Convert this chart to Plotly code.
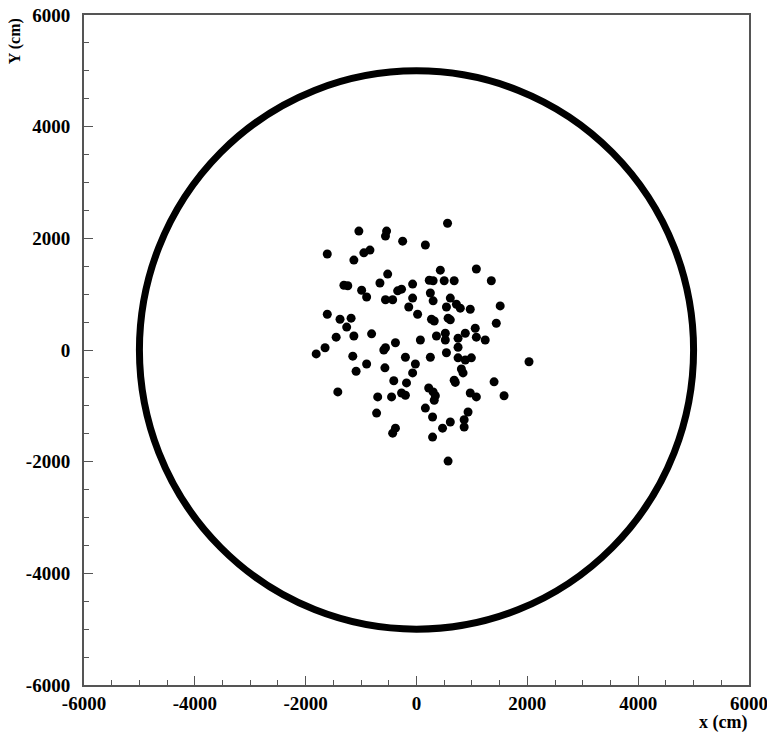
import plotly.graph_objects as go

# Detector boundary radius (cm)
boundary_radius = 5000

# Event positions (cm)
x_cm = [560, -1040, -540, -560, -250, 160, -1610, -1130, -950, -840,
        430, 1080, -520, -660, -1310, -1240, -990, -900, -560, -430,
        -340, -270, -70, 230, 300, 500, 680, 1350, -70, 250,
        300, 610, 720, 790, 540, 970, 1510, -140, 20, -1610,
        -1380, -1180, -1260, 270, 320, 570, 610, 1440, -1450, -1130,
        -810, 520, 520, 360, 750, 880, 1060, 1080, 1240, 70,
        -1650, -1810, -590, -560, -380, -1150, -200, -900, -1090, -570,
        750, 250, 540, 750, 880, 990, 810, 840, -70, -20,
        2030, -410, -180, -1420, -700, -450, -270, -200, 680, 700,
        1400, 220, 300, 340, 320, 970, 1080, 1580, -720, 160,
        290, 930, 610, 860, 860, 470, -380, -430, 290, 570]
y_cm = [2270, 2130, 2130, 2040, 1950, 1880, 1720, 1610, 1740, 1790,
        1430, 1450, 1360, 1200, 1160, 1150, 1070, 950, 900, 900,
        1060, 1090, 1180, 1250, 1240, 1240, 1240, 1240, 930, 1020,
        880, 930, 820, 750, 770, 730, 790, 770, 640, 640,
        550, 570, 410, 550, 520, 570, 540, 480, 230, 250,
        290, 300, 180, 250, 210, 300, 390, 230, 180, 180,
        40, -70, 0, 40, 130, -110, -130, -250, -380, -320,
        50, -130, -50, -140, -180, -140, -340, -410, -410, -250,
        -210, -550, -590, -750, -840, -840, -770, -810, -540, -580,
        -570, -680, -750, -820, -900, -770, -840, -820, -1130, -1040,
        -1200, -1110, -1290, -1250, -1380, -1400, -1400, -1490, -1560, -1990]

tick_vals = [-6000, -4000, -2000, 0, 2000, 4000, 6000]
tick_text = ["-6000", "-4000", "-2000", "0", "2000", "4000", "6000"]

font_family = "Liberation Serif"

fig = go.Figure()
fig.add_trace(go.Scatter(
    x=x_cm, y=y_cm, mode="markers",
    marker=dict(size=9, color="black"),
    showlegend=False, hoverinfo="skip"))

fig.add_shape(type="circle", xref="x", yref="y",
              x0=-boundary_radius, y0=-boundary_radius,
              x1=boundary_radius, y1=boundary_radius,
              line=dict(color="black", width=7), layer="above")

# image border line at the right edge
fig.add_shape(type="line", xref="paper", yref="paper",
              x0=1.0346, x1=1.0346, y0=-0.09, y1=1.02,
              line=dict(color="#555", width=2))

axis_common = dict(
    range=[-6000, 6000], tickvals=tick_vals, ticktext=tick_text,
    ticks="inside", ticklen=9, tickwidth=1, tickcolor="#555",
    showline=True, linecolor="#555", linewidth=2, mirror=True,
    showgrid=False, zeroline=False, automargin=False,
    ticklabeloverflow="allow",
    minor=dict(ticks="inside", ticklen=5, dtick=500, tickcolor="#555", showgrid=False),
    tickfont=dict(family=font_family, size=19, color="black", weight="bold"),
)

fig.update_layout(
    width=767, height=732,
    margin=dict(l=76, r=26, t=7, b=55),
    paper_bgcolor="white", plot_bgcolor="white",
    xaxis=dict(axis_common, ticklabelstandoff=0),
    yaxis=dict(axis_common, ticklabelstandoff=8),
    annotations=[
        dict(text="<b>x (cm)</b>", xref="paper", yref="paper", x=1.0, y=-0.056,
             xanchor="right", yanchor="middle", showarrow=False,
             font=dict(family=font_family, size=18, color="black")),
        dict(text="<b>Y (cm)</b>", xref="paper", yref="paper", x=-0.104, y=0.998,
             xanchor="center", yanchor="top", showarrow=False, textangle=-90,
             font=dict(family=font_family, size=16, color="black")),
    ],
)

fig.write_html("out.html")
